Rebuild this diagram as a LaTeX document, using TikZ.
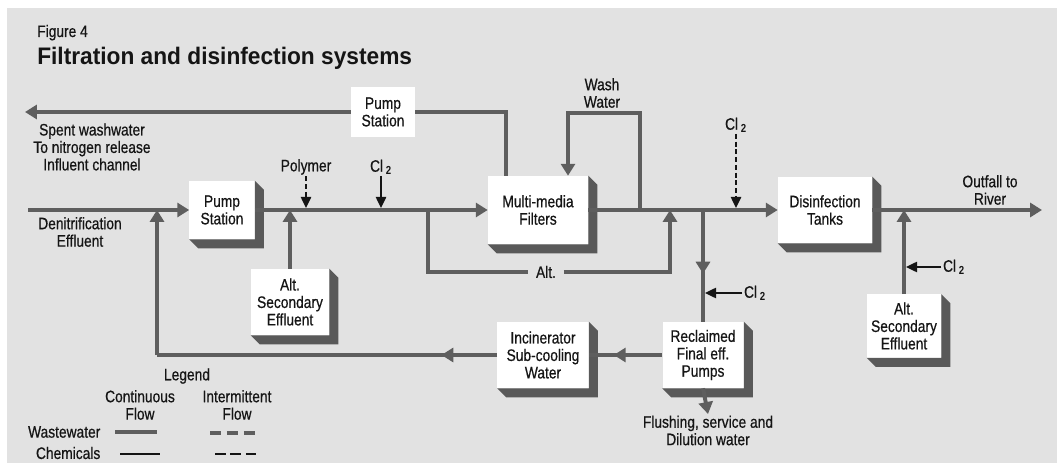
\documentclass[tikz,border=0pt]{standalone}
\usepackage{fontspec}
\setmainfont{Liberation Sans}[FakeStretch=0.83, UprightFeatures={FakeBold=0.6}]
\newfontfamily\wttitlefont{Liberation Sans}[FakeStretch=0.95]
\usetikzlibrary{arrows.meta,decorations.markings}
\definecolor{wtInk}{HTML}{151515}
\definecolor{wtPipe}{HTML}{5E5E5E}
\definecolor{wtShade}{HTML}{595959}
\definecolor{wtPanel}{HTML}{E2E2E2}
\newcommand{\wtsize}{\fontsize{11.8pt}{12.4pt}\selectfont}
\newcommand{\wtcl}{Cl\,\textsubscript{\textbf{2}}}
\tikzset{
  wt flow/.style={color=wtPipe, line width=2.8pt},
  wt chem/.style={color=wtInk, line width=1pt},
  wt chem dashed/.style={wt chem, dash pattern=on 3.5pt off 2pt},
  wt flow tip/.style={-{Triangle[length=8.5pt,width=10pt]}},
  wt chem tip/.style={-{Triangle[length=8pt,width=7.5pt]}},
  wt mid/.style={postaction={decorate}, decoration={markings,
      mark=at position #1 with {\arrow{Triangle[length=8.5pt,width=10pt]}}}},
  wt box/.style={fill=white, inner sep=0pt, align=center, font=\wtsize, text=wtInk},
  wt label/.style={align=center, font=\wtsize, text=wtInk, inner sep=1pt},
  wt shade/.style={fill=wtShade},
}

\begin{document}
\begin{tikzpicture}[x=0.025cm, y=-0.025cm]
  \useasboundingbox (0,0) rectangle (1057,465);
  \fill[white] (0,0) rectangle (1057,465);
  \fill[wtPanel] (7,8) rectangle (1057,463);

  % title
  \node[wt label, anchor=base west, inner sep=0pt] (figNo) at (37,37) {Figure 4};
  \node[anchor=base west, inner sep=0pt, text=wtInk,
        font={\wttitlefont\fontsize{17pt}{19pt}\selectfont\bfseries}] (figTitle) at (37,65)
        {Filtration and disinfection systems};

  % process units
  \node[wt box, minimum width=1.6cm, minimum height=1.25cm] (pumpT) at (383,112) {Pump\\Station};
  \node[wt box, minimum width=1.625cm, minimum height=1.45cm] (pumpM) at (222,210) {Pump\\Station};
  \node[wt box, minimum width=1.95cm, minimum height=1.65cm] (altL) at (290,302) {Alt.\\Secondary\\Effluent};
  \node[wt box, minimum width=2.5cm, minimum height=1.7cm] (filters) at (538,210) {Multi-media\\Filters};
  \node[wt box, minimum width=2.275cm, minimum height=1.65cm] (incin) at (543,355) {Incinerator\\Sub-cooling\\Water};
  \node[wt box, minimum width=2.025cm, minimum height=1.65cm] (reclaim) at (703,355) {Reclaimed\\Final eff.\\Pumps};
  \node[wt box, minimum width=2.35cm, minimum height=1.65cm] (disinf) at (825,210) {Disinfection\\Tanks};
  \node[wt box, minimum width=1.85cm, minimum height=1.575cm] (altR) at (904,326) {Alt.\\Secondary\\Effluent};
  \foreach \b in {pumpM,altL,filters,incin,reclaim,disinf,altR}
    \fill[wt shade] (\b.north east) -- ++(9,9) -- ([shift={(9,9)}]\b.south east)
      -- ([shift={(9,9)}]\b.south west) -- (\b.south west) -- (\b.south east) -- cycle;

  % labels
  \node[wt label] (spentLbl) at (92,147) {Spent washwater\\To nitrogen release\\Influent channel};
  \node[wt label] (denitLbl) at (80,232) {Denitrification\\Effluent};
  \node[wt label] (polyLbl) at (306,167) {Polymer};
  \node[wt label] (clA) at (381,167) {\wtcl};
  \node[wt label] (washLbl) at (602,93) {Wash\\Water};
  \node[wt label, inner xsep=0.19cm] (altLbl) at (546,272) {Alt.};
  \node[wt label] (clB) at (736,125) {\wtcl};
  \node[wt label] (clC) at (755,293) {\wtcl};
  \node[wt label] (clD) at (954,267) {\wtcl};
  \node[wt label] (outLbl) at (990,190) {Outfall to\\River};
  \node[wt label, anchor=north] (flushLbl) at (708,414) {Flushing, service and\\Dilution water};

  % junctions and free ends
  \coordinate (denitIn) at (28,210);
  \coordinate (spentOut) at (25,112);
  \coordinate (spentTurn) at (506,112);
  \coordinate (washJoin) at (640,210);
  \coordinate (washTurn) at (568,113);
  \coordinate (altSplit) at (428,210);
  \coordinate (altMerge) at (670,210);
  \coordinate (reclSplit) at (703,210);
  \coordinate (retCorner) at (157,355);
  \coordinate (outfall) at (1042,210);

  % wastewater flow
  \draw[wt flow, wt flow tip] (denitIn) -- (pumpM.west);
  \draw[wt flow, wt flow tip] (pumpM.east) -- (filters.west);
  \draw[wt flow, wt flow tip] (filters.east) -- (disinf.west);
  \draw[wt flow, wt flow tip] (disinf.east) -- (outfall);
  \draw[wt flow] (filters.north -| spentTurn) -- (spentTurn) -- (pumpT.east);
  \draw[wt flow, wt flow tip] (pumpT.west) -- (spentOut);
  \draw[wt flow, wt flow tip] (washJoin) |- (washTurn) -- (filters.north -| washTurn);
  \draw[wt flow] (altSplit) |- (altLbl.west);
  \draw[wt flow, wt flow tip] (altLbl.east) -| (altMerge);
  \draw[wt flow, wt mid=0.57] (reclSplit) -- (reclaim.north);
  \draw[wt flow, wt mid=0.66] (reclaim.west) -- (incin.east);
  \draw[wt flow, wt mid=0.164] (incin.west) -- (retCorner);
  \draw[wt flow, wt flow tip] (retCorner) -- (retCorner |- pumpM.west);
  \draw[wt flow, wt flow tip] (altL.north) -- (altL.north |- pumpM.east);
  \draw[wt flow, wt flow tip] (altR.north) -- (altR.north |- disinf.east);
  \draw[wt flow, wt flow tip] (reclaim.south) -- (flushLbl.north);

  % chemical feeds
  \draw[wt chem dashed, wt chem tip, shorten >=1.4pt] (polyLbl.south) -- (polyLbl.south |- pumpM.east);
  \draw[wt chem, wt chem tip, shorten >=1.4pt] (clA.south) -- (clA.south |- pumpM.east);
  \draw[wt chem dashed, wt chem tip, shorten >=1.4pt] (clB.south) -- (clB.south |- disinf.west);
  \draw[wt chem, wt chem tip, shorten >=1.4pt] (clC.west) -- (clC.west -| reclSplit);
  \draw[wt chem, wt chem tip, shorten >=1.4pt] (clD.west) -- (clD.west -| altR.north);

  % legend
  \node[wt label] (legLbl) at (187,376) {Legend};
  \node[wt label] (contLbl) at (140,405) {Continuous\\Flow};
  \node[wt label] (interLbl) at (237,405) {Intermittent\\Flow};
  \node[wt label, anchor=east] (wwLbl) at (102,432) {Wastewater};
  \node[wt label, anchor=east] (chemLbl) at (102,453) {Chemicals};
  \draw[wt flow] (115,432) -- (157,432);
  \draw[wt flow, dash pattern=on 8pt off 4pt] (210,433) -- (257,433);
  \draw[wt chem] (120,454) -- (160,454);
  \draw[wt chem, dash pattern=on 7.5pt off 3.5pt] (215,454) -- (257,454);
\end{tikzpicture}
\end{document}
